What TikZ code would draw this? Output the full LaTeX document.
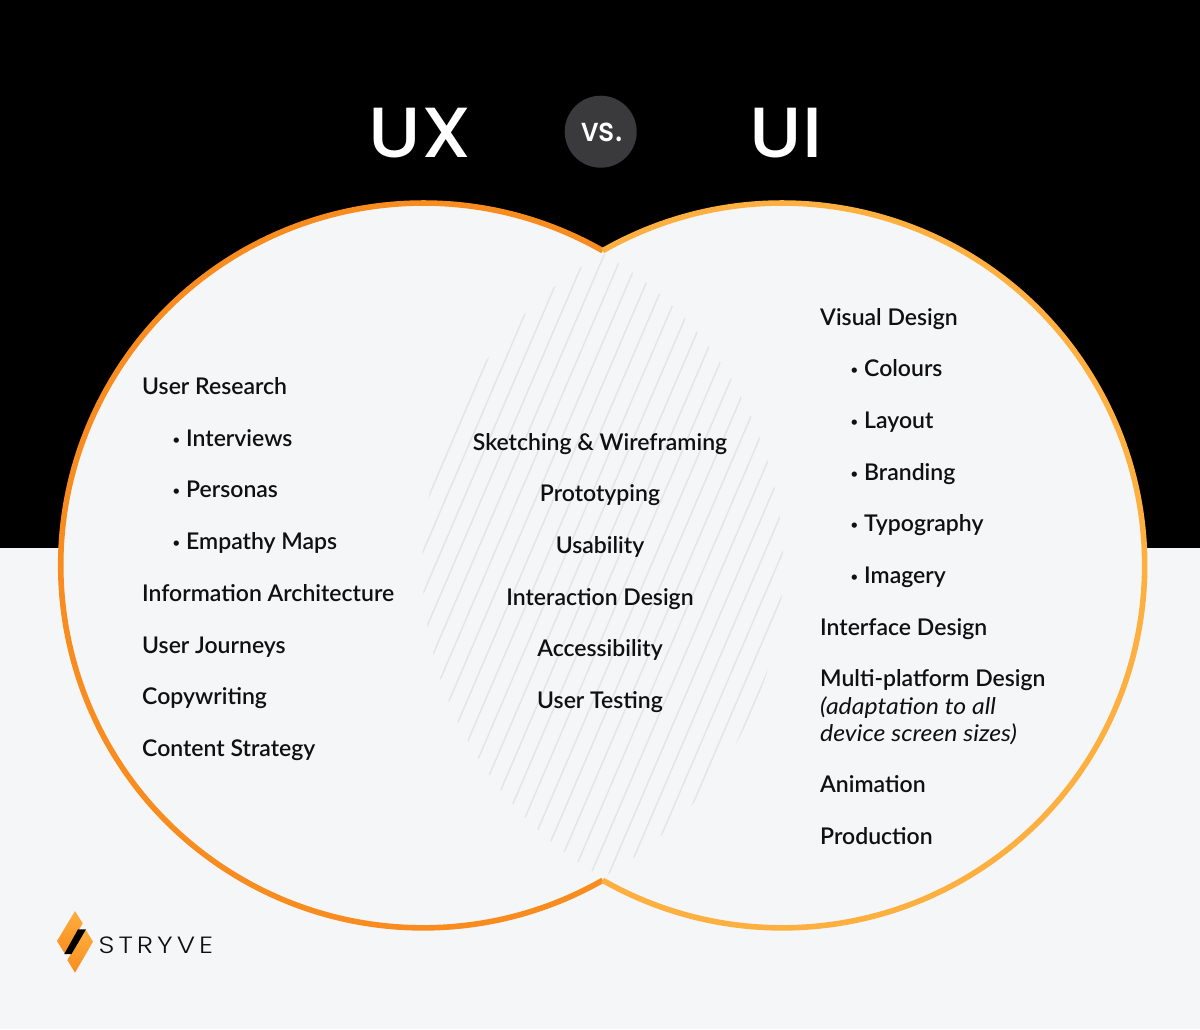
\documentclass[tikz,border=0pt]{standalone}
\usepackage{fontspec}
\setmainfont{Lato Semibold}[ItalicFont={Lato Italic},ItalicFeatures={FakeStretch=1.08}]
\newfontfamily\titlefont{Poppins Medium}[FakeStretch=1.07]
\newfontfamily\vsfont{Poppins Medium}[FakeStretch=0.92]
\newfontfamily\logofont{Poppins Light}[LetterSpace=17,FakeStretch=1.18]
\definecolor{panel}{HTML}{F5F6F8}
\definecolor{uxorange}{HTML}{F98C1F}
\definecolor{uiorange}{HTML}{FDB03F}
\definecolor{hatch}{HTML}{E3E4E6}
\definecolor{badge}{HTML}{3A3A3C}
\definecolor{ink}{HTML}{101013}
\newcommand{\bul}{\makebox[13.5pt][l]{\fontsize{13}{13}\selectfont\raisebox{2pt}{•}}}
\tikzset{
  x=1pt,y=-1pt,
  item/.style={anchor=base west,inner sep=0pt,text=ink,font=\fontsize{23}{27}\selectfont},
  middle/.style={anchor=base,inner sep=0pt,text=ink,font=\fontsize{23}{27}\selectfont},
  heading/.style={anchor=base,inner sep=0pt,text=white,font=\titlefont\fontsize{71}{80}\selectfont},
  ring/.style={line width=5.6pt,line cap=butt},
  hatchline/.style={draw=hatch,line width=1.4pt},
}
\begin{document}
\begin{tikzpicture}
\useasboundingbox (0,0) rectangle (1200,1029);
\fill[panel] (0,0) rectangle (1200,1029);
\fill[black] (0,0) rectangle (1200,548);
\coordinate (L) at (423.1,565.5);
\coordinate (R) at (782.3,565.5);
\coordinate (tipU) at (602.7,250.7);
\fill[panel] (L) circle[radius=362.4pt];
\fill[panel] (R) circle[radius=362.4pt];
\begin{scope}
  \clip (L) circle[radius=360pt];
  \clip (R) circle[radius=360pt];
  \foreach \k in {0,...,23} {
    \draw[hatchline] ({641.4+18*\k-107.1},250) -- ({641.4+18*\k-379.3},885);
  }
\end{scope}
\draw[ring,uxorange] (tipU) arc[start angle=60.3,delta angle=239.4,radius=362.4pt];
\draw[ring,uiorange] (tipU) arc[start angle=119.7,delta angle=-239.4,radius=362.4pt];

\node[heading] (ux) at (420,157) {UX};
\node[heading] (ui) at (786,157) {UI};
\node[circle,fill=badge,minimum size=72pt,inner sep=0pt] (vs) at (600.7,131.7) {};
\node[anchor=base,inner sep=0pt,text=white,font=\vsfont\fontsize{33}{36}\selectfont] (vstext) at (602,141.7) {vs.};

\node[item] (a1) at (142,394.4) {User Research};
\node[item] (a2) at (172.5,446.1) {\bul Interviews};
\node[item] (a3) at (172.5,497.8) {\bul Personas};
\node[item] (a4) at (172.5,549.6) {\bul Empathy Maps};
\node[item] (a5) at (142,601.3) {Information Architecture};
\node[item] (a6) at (142,653.1) {User Journeys};
\node[item] (a7) at (142,704.8) {Copywriting};
\node[item] (a8) at (142,756.5) {Content Strategy};

\node[middle] (m1) at (600,450) {Sketching \& Wireframing};
\node[middle] (m2) at (600,501.7) {Prototyping};
\node[middle] (m3) at (600,553.4) {Usability};
\node[middle] (m4) at (600,605.1) {Interaction Design};
\node[middle] (m5) at (600,656.8) {Accessibility};
\node[middle] (m6) at (600,708.5) {User Testing};

\node[item] (b1) at (820,325) {Visual Design};
\node[item] (b2) at (850.5,376.7) {\bul Colours};
\node[item] (b3) at (850.5,428.4) {\bul Layout};
\node[item] (b4) at (850.5,480.1) {\bul Branding};
\node[item] (b5) at (850.5,531.8) {\bul Typography};
\node[item] (b6) at (850.5,583.5) {\bul Imagery};
\node[item] (b7) at (820,635.2) {Interface Design};
\node[item] (b8) at (820,686.7) {Multi-platform Design};
\node[item] (b9) at (820,714) {\itshape (adaptation to all};
\node[item] (b10) at (820,741.2) {\itshape device screen sizes)};
\node[item] (b11) at (820,792.8) {Animation};
\node[item] (b12) at (820,844.5) {Production};

\shade[top color=uiorange,bottom color=uxorange] (75,911) -- (82.7,923.3) -- (65,954) -- (57,941) -- cycle;
\shade[top color=uiorange,bottom color=uxorange] (85.5,929.3) -- (93,941.7) -- (75,972.7) -- (67.3,960) -- cycle;
\fill[black] (78,929.3) -- (86,929.3) -- (71.5,954) -- (64.3,954) -- cycle;
\node[anchor=base west,inner sep=0pt,text=ink,font=\logofont\fontsize{23.5}{26}\selectfont] (logo) at (98.5,953.5) {STRYVE};
\end{tikzpicture}
\end{document}
